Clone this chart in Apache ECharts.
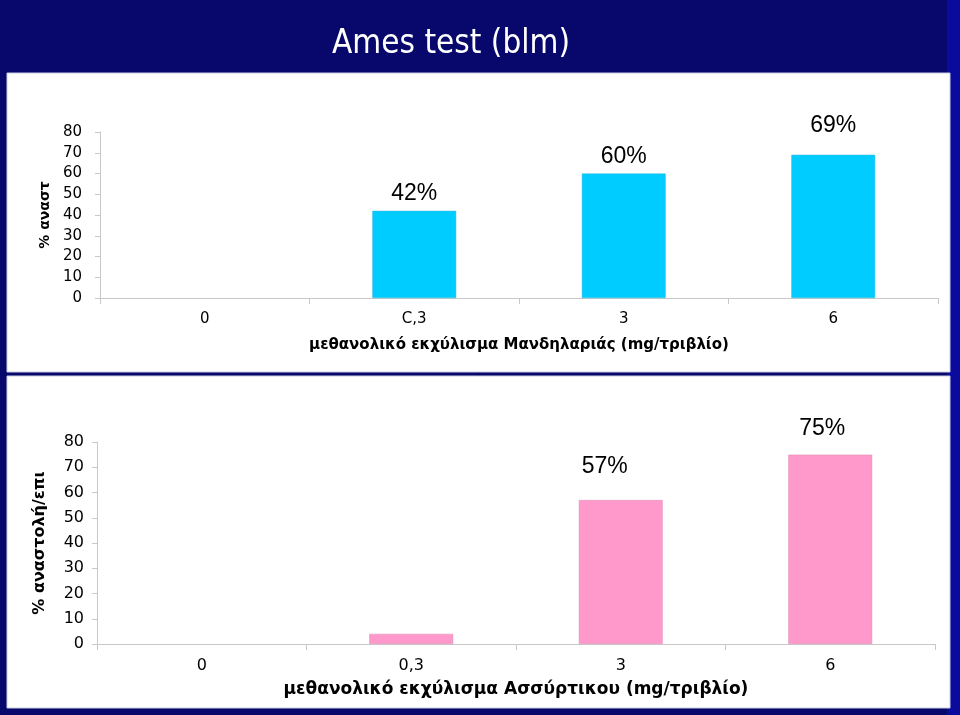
<!DOCTYPE html>
<html>
<head>
<meta charset="utf-8">
<script src="https://cdn.jsdelivr.net/npm/echarts@6/dist/echarts.min.js"></script>
<style>
html,body{margin:0;padding:0;background:#08086c;}
#c{width:960px;height:715px;}
</style>
</head>
<body>
<div id="c"></div>
<script>
var titleText = 'Ames test (blm)';
var categories = ['0', '0,3', '3', '6'];
var categoriesTop = ['0', 'C,3', '3', '6'];
var mandilariaValues = [null, 42, 60, 69];
var assyrtikoValues = [null, 4, 57, 75];
var yTicksMin = 0, yTicksMax = 80, yTicksStep = 10;
var xNameTop = 'μεθανολικό εκχύλισμα Μανδηλαριάς (mg/τριβλίο)';
var xNameBottom = 'μεθανολικό εκχύλισμα Ασσύρτικου (mg/τριβλίο)';
var yNameTop = '% αναστ';
var yNameBottom = '% αναστολή/επι';
var pctLabelsTop = ['', '42%', '60%', '69%'];
var pctLabelsBottom = ['', '', '57%', '75%'];

// label nudges (style only)
var nudgeTop = [[0, 0], [0, 3], [0, 4], [0, -9]];
var nudgeBottom = [[0, 0], [0, 0], [-16, -4], [-8, 4]];

var chart = echarts.init(document.getElementById('c'), null, {renderer: 'canvas'});
var font = 'Liberation Sans, Arial, sans-serif';
var wide = 'DejaVu Sans, sans-serif';

function yAxis(gridIndex, name, nameGap, nfs, fs, margin) {
  return {
    type: 'value', gridIndex: gridIndex, min: yTicksMin, max: yTicksMax, interval: yTicksStep,
    name: name, nameLocation: 'middle', nameGap: nameGap, nameRotate: 90,
    nameTextStyle: {color: '#000', fontFamily: wide, fontWeight: 'bold', fontSize: nfs},
    axisLine: {show: true, lineStyle: {color: '#c8c8c8', width: 1}},
    axisTick: {show: true, length: 5, lineStyle: {color: '#c8c8c8'}},
    splitLine: {show: false},
    axisLabel: {color: '#000', fontFamily: wide, fontSize: fs, margin: margin}
  };
}
function xAxis(gridIndex, cats, name, nameGap, nfs, fs) {
  return {
    type: 'category', gridIndex: gridIndex, data: cats, boundaryGap: true,
    name: name, nameLocation: 'middle', nameGap: nameGap,
    nameTextStyle: {color: '#000', fontFamily: wide, fontWeight: 'bold', fontSize: nfs},
    axisLine: {show: true, lineStyle: {color: '#c8c8c8'}},
    axisTick: {show: true, alignWithLabel: false, length: 6, lineStyle: {color: '#c8c8c8'}},
    axisLabel: {color: '#000', fontFamily: wide, fontSize: fs, margin: 14}
  };
}
function labelData(values, nudges) {
  return values.map(function (v, i) {
    return {value: v, label: {offset: nudges[i]}};
  });
}

chart.setOption({
  backgroundColor: '#08086c',
  animation: false,
  title: {
    text: titleText, left: 446, top: 23, textAlign: 'center',
    textStyle: {color: '#fff', fontFamily: 'DejaVu Sans Condensed, DejaVu Sans, sans-serif', fontWeight: 'normal', fontSize: 33}
  },
  graphic: [
    {type: 'rect', z: -10, shape: {x: 947, y: 0, width: 13, height: 715}, style: {fill: '#0a0a9c'}},
    {type: 'rect', z: -5, shape: {x: 7, y: 73, width: 943, height: 299}, style: {fill: '#ffffff', stroke: '#c9cde0', lineWidth: 1}},
    {type: 'rect', z: -5, shape: {x: 7, y: 376, width: 943, height: 332}, style: {fill: '#ffffff', stroke: '#c9cde0', lineWidth: 1}}
  ],
  grid: [
    {left: 100, right: 22, top: 132, bottom: 417},
    {left: 97, right: 25, top: 442, bottom: 71}
  ],
  xAxis: [xAxis(0, categoriesTop, xNameTop, 40, 15, 15), xAxis(1, categories, xNameBottom, 37, 17, 16)],
  yAxis: [yAxis(0, yNameTop, 47, 14, 15, 18), yAxis(1, yNameBottom, 49, 16, 16, 13)],
  series: [
    {
      type: 'bar', xAxisIndex: 0, yAxisIndex: 0, data: labelData(mandilariaValues, nudgeTop), barWidth: '40%',
      itemStyle: {color: '#00ccff', borderColor: '#33b8e0', borderWidth: 0.5},
      label: {show: true, position: 'top', distance: 9, color: '#000', fontFamily: font, fontSize: 23,
        formatter: function (p) { return pctLabelsTop[p.dataIndex]; }}
    },
    {
      type: 'bar', xAxisIndex: 1, yAxisIndex: 1, data: labelData(assyrtikoValues, nudgeBottom), barWidth: '40%',
      itemStyle: {color: '#ff99cc', borderColor: '#d98aae', borderWidth: 0.5},
      label: {show: true, position: 'top', distance: 18, color: '#000', fontFamily: font, fontSize: 23,
        formatter: function (p) { return pctLabelsBottom[p.dataIndex]; }}
    }
  ]
});
</script>
</body>
</html>
